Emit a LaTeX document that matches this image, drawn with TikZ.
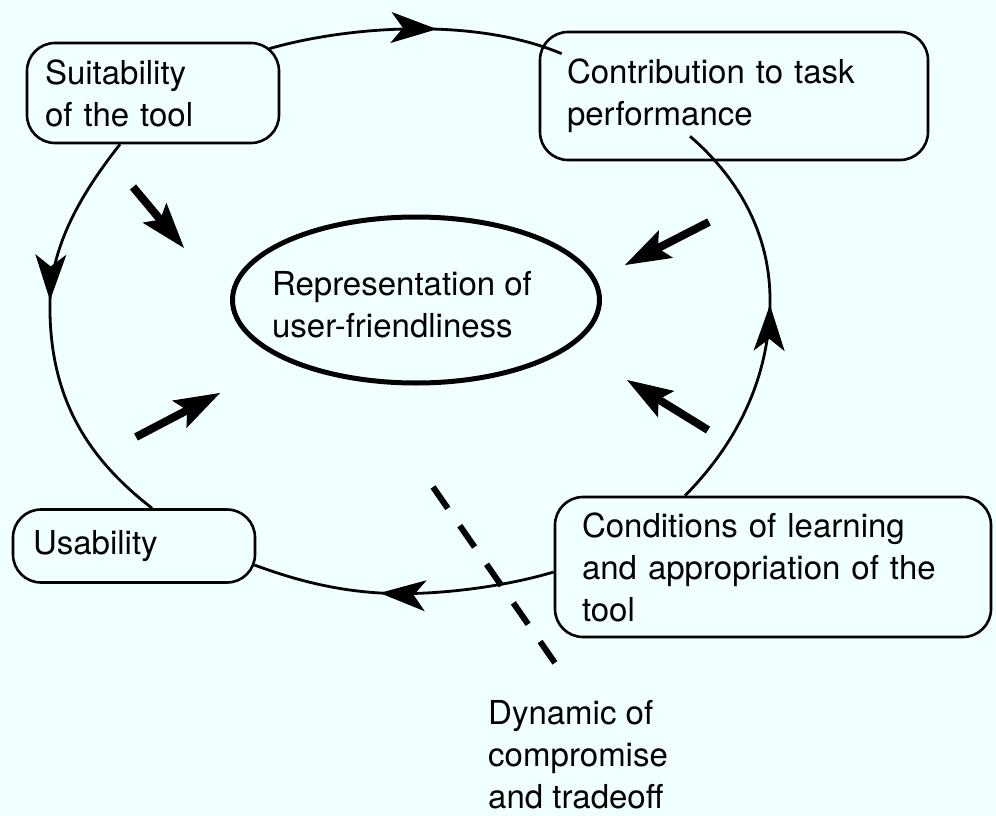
\documentclass[tikz,border=0pt]{standalone}
\usepackage{fontspec}
\setmainfont{TeX Gyre Heros}
\usetikzlibrary{arrows.meta,shapes.geometric,decorations.markings,calc}
\definecolor{bg}{RGB}{240,255,255}
\newcommand\lab{\fontsize{33}{42}\selectfont}
\tikzset{
  box/.style={draw, line width=2.6pt, rounded corners=28pt, align=left, inner ysep=0pt, font=\lab},
  link/.style={line width=2.8pt},
  midarrow/.style={postaction={decorate}, decoration={markings, mark=at position #1 with {\arrow{Stealth[length=46pt,width=31pt,inset=12pt,line width=1pt]}}}},
  bigarrow/.style={line width=8pt, -{Stealth[length=46pt,width=31pt,inset=9pt,line width=1pt]}},
}
\begin{document}
\begin{tikzpicture}[x=1pt,y=-1pt]
\fill[bg] (0,0) rectangle (996,816);
\useasboundingbox (0,0) rectangle (996,816);

\node[box, minimum width=252pt, minimum height=100pt, text width=216pt, inner xsep=18pt] (suit) at (153,93) {Suitability\\of the tool};
\node[box, minimum width=388pt, minimum height=128pt, text width=334pt, inner xsep=27pt] (contrib) at (734,96) {Contribution to task\\performance};
\node[box, minimum width=242pt, minimum height=73pt, text width=202pt, inner xsep=20pt] (usab) at (134,546) {Usability};
\node[box, minimum width=436pt, minimum height=140pt, text width=382pt, inner xsep=27pt] (cond) at (773,567) {Conditions of learning\\and appropriation of the\\tool};
\node[ellipse, draw, line width=5pt, minimum width=367pt, minimum height=166pt, inner sep=0pt] (ell) at (416,300) {};
\node[align=left, inner sep=0pt, font=\lab] (elltext) at (402,305) {Representation of\\user-friendliness};
\node[anchor=north west, inner sep=0pt, align=left, font=\lab] (dyn) at (488,700) {Dynamic of\\compromise\\and tradeoff};

% cycle connectors
\draw[link, midarrow=0.57] ($(suit.north east)+(-11,7)$) .. controls (340,28) and (470,15) .. ($(contrib.north west)+(23,23)$);
\draw[link, midarrow=0.526] ($(cond.north)+(-88,0)$) .. controls (735,445) and (770,380) .. (770,300)
      .. controls (770,230) and (735,175) .. ($(contrib.south)+(-44,-25)$);
\draw[link, midarrow=0.419] ($(suit.south)+(-33,0)$) .. controls (80,195) and (52,245) .. (50,300)
      .. controls (48,400) and (90,460) .. ($(usab.north)+(18,0)$);
\draw[link, midarrow=0.577] ($(cond.west)+(0,5)$) .. controls (500,588) and (430,596) .. (380,593)
      .. controls (330,590) and (290,578) .. ($(usab.east)+(-2,19)$);

% thick arrows toward the centre
\coordinate (a1s) at (133,187); \coordinate (a1e) at (184,248);
\coordinate (a2s) at (709,222); \coordinate (a2e) at (625,265);
\coordinate (a3s) at (136,437); \coordinate (a3e) at (220,393);
\coordinate (a4s) at (708,430); \coordinate (a4e) at (627,380);
\draw[bigarrow] (a1s) -- (a1e);
\draw[bigarrow] (a2s) -- (a2e);
\draw[bigarrow] (a3s) -- (a3e);
\draw[bigarrow] (a4s) -- (a4e);

% dashed divider
\coordinate (d1) at (433,487); \coordinate (d2) at (555,663);
\draw[line width=6pt, dash pattern=on 26pt off 21pt] (d1) -- (d2);
\end{tikzpicture}
\end{document}
